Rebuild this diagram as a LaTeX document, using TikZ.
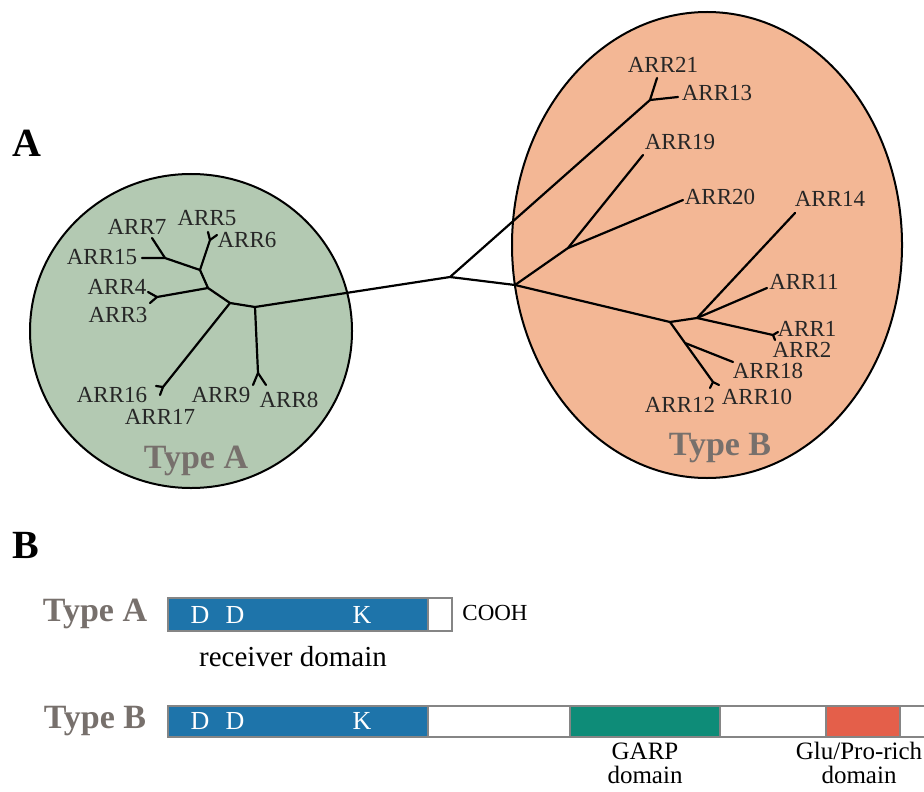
\documentclass[tikz,border=0pt]{standalone}
\usepackage{fontspec}
\setmainfont{Liberation Serif}
\definecolor{greenfill}{HTML}{B3C9B2}
\definecolor{orangefill}{HTML}{F3B795}
\definecolor{typegrey}{HTML}{77706C}
\definecolor{recblue}{HTML}{1E74AA}
\definecolor{garpgreen}{HTML}{0E8C78}
\definecolor{glured}{HTML}{E45F4A}
\definecolor{bargrey}{HTML}{858585}
\tikzset{
	branch/.style={line width=1.1pt, line cap=round, line join=round},
	arr/.style={inner sep=0pt, font=\fontsize{11.5}{12}\selectfont, text=black!85},
	typename/.style={inner sep=0pt, font=\fontsize{17}{18}\selectfont\bfseries, text=typegrey},
	panel/.style={inner sep=0pt, font=\fontsize{20}{22}\selectfont\bfseries},
	residue/.style={inner sep=0pt, font=\fontsize{13}{14}\selectfont, text=white},
	domlabel/.style={inner sep=0pt, font=\fontsize{12.5}{14}\selectfont, align=center},
	bar/.style={draw=bargrey, line width=0.7pt}
}
\begin{document}
\begin{tikzpicture}[x=0.5pt,y=-0.5pt]
	\clip (0,0) rectangle (924,791);
	%\draw [help lines,step=50] (0,0) grid (924,791);
	% panel A: the two groups
	\node [panel] (labA) at (27,143) {A};
	\draw [line width=1pt, fill=greenfill] (191,331) ellipse [x radius=161, y radius=157];
	\draw [line width=1pt, fill=orangefill] (707,245) ellipse [x radius=195, y radius=233];
	% tree, inner nodes
	\coordinate (root) at (450,277);
	\coordinate (gA) at (255,307);
	\coordinate (gB) at (230,303);
	\coordinate (gC) at (208,288);
	\coordinate (gD) at (200,270);
	\coordinate (g715) at (165,258);
	\coordinate (g56) at (210,240);
	\coordinate (g34) at (157,297);
	\coordinate (g1617) at (163,387);
	\coordinate (g89) at (258,373);
	\coordinate (oA) at (515,285);
	\coordinate (oB) at (568,248);
	\coordinate (oC) at (670,322);
	\coordinate (oD) at (697,318);
	\coordinate (oE) at (685,343);
	\coordinate (o1321) at (650,100);
	\coordinate (o12) at (773,335);
	\coordinate (o1012) at (713,382);
	% tree, leaves
	\coordinate (l7) at (152,238);
	\coordinate (l15) at (142,258);
	\coordinate (l5) at (208,232);
	\coordinate (l6) at (217,235);
	\coordinate (l4) at (148,292);
	\coordinate (l3) at (150,303);
	\coordinate (l16) at (156,386);
	\coordinate (l17) at (160,395);
	\coordinate (l9) at (253,385);
	\coordinate (l8) at (266,385);
	\coordinate (l21) at (657,78);
	\coordinate (l13) at (678,97);
	\coordinate (l19) at (643,155);
	\coordinate (l20) at (683,200);
	\coordinate (l14) at (795,213);
	\coordinate (l11) at (767,288);
	\coordinate (l1) at (778,332);
	\coordinate (l2) at (775,340);
	\coordinate (l18) at (733,362);
	\coordinate (l12) at (710,388);
	\coordinate (l10) at (719,385);
	% branches
	\draw [branch] (gA) -- (root) -- (o1321);
	\draw [branch] (root) -- (oA);
	\draw [branch] (gA) -- (gB) -- (gC) -- (gD) -- (g715) -- (l15);
	\draw [branch] (g715) -- (l7);
	\draw [branch] (gD) -- (g56) -- (l5);
	\draw [branch] (g56) -- (l6);
	\draw [branch] (gC) -- (g34) -- (l4);
	\draw [branch] (g34) -- (l3);
	\draw [branch] (gB) -- (g1617) -- (l16);
	\draw [branch] (g1617) -- (l17);
	\draw [branch] (gA) -- (g89) -- (l9);
	\draw [branch] (g89) -- (l8);
	\draw [branch] (o1321) -- (l21);
	\draw [branch] (o1321) -- (l13);
	\draw [branch] (oA) -- (oB) -- (l19);
	\draw [branch] (oB) -- (l20);
	\draw [branch] (oA) -- (oC) -- (oD) -- (l14);
	\draw [branch] (oD) -- (l11);
	\draw [branch] (oD) -- (o12) -- (l1);
	\draw [branch] (o12) -- (l2);
	\draw [branch] (oC) -- (oE) -- (l18);
	\draw [branch] (oE) -- (o1012) -- (l12);
	\draw [branch] (o1012) -- (l10);
	% leaf names
	\node [arr] (n7) at (137,227) {ARR7};
	\node [arr] (n5) at (207,218) {ARR5};
	\node [arr] (n6) at (247,240) {ARR6};
	\node [arr] (n15) at (102,257) {ARR15};
	\node [arr] (n4) at (117,287) {ARR4};
	\node [arr] (n3) at (118,315) {ARR3};
	\node [arr] (n16) at (112,395) {ARR16};
	\node [arr] (n17) at (160,417) {ARR17};
	\node [arr] (n9) at (221,395) {ARR9};
	\node [arr] (n8) at (289,400) {ARR8};
	\node [arr] (n21) at (663,65) {ARR21};
	\node [arr] (n13) at (717,93) {ARR13};
	\node [arr] (n19) at (680,142) {ARR19};
	\node [arr] (n20) at (720,197) {ARR20};
	\node [arr] (n14) at (830,199) {ARR14};
	\node [arr] (n11) at (804,282) {ARR11};
	\node [arr] (n1) at (807,329) {ARR1};
	\node [arr] (n2) at (802,350) {ARR2};
	\node [arr] (n18) at (768,371) {ARR18};
	\node [arr] (n10) at (757,397) {ARR10};
	\node [arr] (n12) at (680,405) {ARR12};
	\node [typename] (grpA) at (196,461) {Type A};
	\node [typename] (grpB) at (720,448) {Type B};
	% panel B: domains
	\node [panel] (labB) at (26,545) {B};
	\node [typename] (barA) at (95,614) {Type A};
	\fill [recblue] (168,598) rectangle (428,631);
	\draw [bar] (168,598) rectangle (452,631);
	\draw [bar] (428,598) -- (428,631);
	\node [residue] (aD1) at (200,615) {D};
	\node [residue] (aD2) at (235,615) {D};
	\node [residue] (aK) at (362,615) {K};
	\node [arr, font=\fontsize{11.5}{12}\selectfont, text=black] (cooh) at (495,613) {COOH};
	\node [inner sep=0pt, font=\fontsize{14.5}{16}\selectfont] (recv) at (293,657) {receiver domain};
	\node [typename] (barB) at (95,721) {Type B};
	\fill [recblue] (168,706) rectangle (428,737);
	\fill [garpgreen] (570,706) rectangle (720,737);
	\fill [glured] (826,706) rectangle (900,737);
	\draw [bar] (940,706) -- (168,706) -- (168,737) -- (940,737);
	\foreach \xb in {428,570,720,826,900}
		\draw [bar] (\xb,706) -- (\xb,737);
	\node [residue] (bD1) at (200,721) {D};
	\node [residue] (bD2) at (235,721) {D};
	\node [residue] (bK) at (362,721) {K};
	\node [domlabel] (garp) at (645,763) {GARP\\[-2pt]domain};
	\node [domlabel] (glu) at (859,763) {Glu/Pro-rich\\[-2pt]domain};
\end{tikzpicture}
\end{document}
